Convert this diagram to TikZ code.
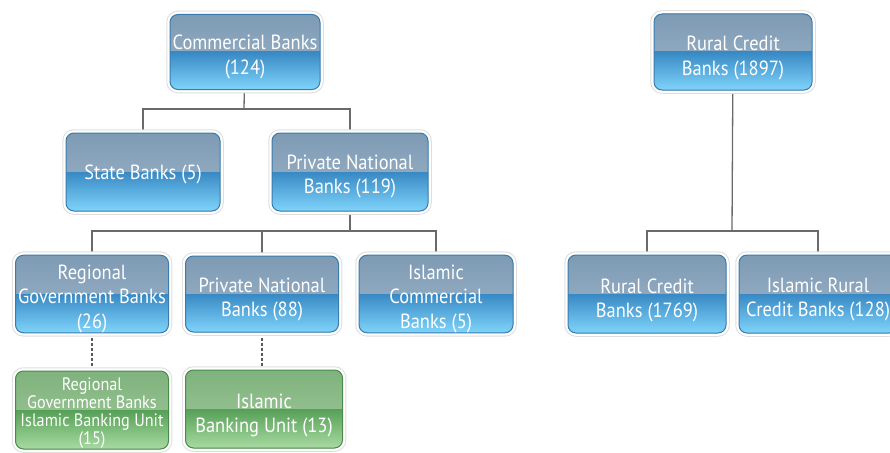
\documentclass[tikz,border=0pt]{standalone}
\usepackage{fontspec}
\setmainfont{PT Sans}[FakeStretch=0.9]
\usetikzlibrary{backgrounds}
\definecolor{bTop}{HTML}{7E9BB4}
\definecolor{bTop2}{HTML}{9DB5C9}
\definecolor{bMid}{HTML}{3889C4}
\definecolor{bBot}{HTML}{7FD4FA}
\definecolor{bEdge}{HTML}{3A7BAC}
\definecolor{gTop}{HTML}{7FB27C}
\definecolor{gTop2}{HTML}{A2CC9E}
\definecolor{gMid}{HTML}{56A056}
\definecolor{gBot}{HTML}{A8DAA2}
\definecolor{gEdge}{HTML}{4A8A4A}
\definecolor{link}{HTML}{6A6A6A}
\newcommand\dropl[1]{\rule{0pt}{#1}}
\tikzset{
  cardbase/.style={rounded corners=8pt, line width=1pt, align=center, text=white,
    font=\fontsize{20.5}{24.5}\selectfont, inner sep=0pt,
    preaction={draw=black!13, line width=7.5pt},
    preaction={draw=white, line width=5.5pt}},
  bluebox/.style={cardbase, draw=bEdge, fill=bMid,
    path picture={
      \shade[sharp corners, top color=bTop, bottom color=bTop2] (path picture bounding box.north west) rectangle (path picture bounding box.east);
      \shade[sharp corners, top color=bMid, bottom color=bBot] (path picture bounding box.west) rectangle (path picture bounding box.south east);}},
  greenbox/.style={cardbase, draw=gEdge, fill=gMid,
    path picture={
      \shade[sharp corners, top color=gTop, bottom color=gTop2] (path picture bounding box.north west) rectangle (path picture bounding box.east);
      \shade[sharp corners, top color=gMid, bottom color=gBot] (path picture bounding box.west) rectangle (path picture bounding box.south east);}},
  solidlink/.style={draw=link, line width=1.3pt},
  dashlink/.style={draw=link!85!black, line width=1.3pt, dash pattern=on 3pt off 2pt},
}
\begin{document}
\begin{tikzpicture}[x=1pt, y=-1pt]
\useasboundingbox (0,0) rectangle (890,452);

% top-left tree
\node[bluebox, minimum width=150pt, minimum height=75pt] (com) at (245,52) {\dropl{25pt}Commercial Banks\\(124)};
\node[bluebox, minimum width=154pt, minimum height=78pt] (state) at (143,172) {\dropl{19pt}State Banks (5)};
\node[bluebox, minimum width=156pt, minimum height=78pt] (pnb) at (350,172) {\dropl{24pt}Private National\\Banks (119)};
\node[bluebox, minimum width=153pt, minimum height=76pt] (rgb) at (92,294) {\dropl{24pt}Regional\\Government Banks\\(26)};
\node[bluebox, minimum width=153pt, minimum height=76pt] (pnb2) at (262,294) {\dropl{25pt}Private National\\Banks (88)};
\node[bluebox, minimum width=154pt, minimum height=76pt] (icb) at (436,294) {\dropl{24pt}Islamic\\Commercial\\Banks (5)};
\node[greenbox, minimum width=153pt, minimum height=78pt, font=\fontsize{18}{18}\selectfont] (rgbu) at (92,410) {\dropl{19.5pt}Regional\\Government Banks\\Islamic Banking Unit\\(15)};
\node[greenbox, minimum width=157pt, minimum height=78pt] (ibu) at (264,409) {\dropl{27pt}Islamic\\Banking Unit (13)};

% right tree
\node[bluebox, minimum width=158pt, minimum height=76pt] (rcb) at (733,52) {\dropl{27pt}Rural Credit\\Banks (1897)};
\node[bluebox, minimum width=158pt, minimum height=78pt] (rcb2) at (647,294) {\dropl{27pt}Rural Credit\\Banks (1769)};
\node[bluebox, minimum width=158pt, minimum height=78pt] (ircb) at (818,294) {\dropl{25pt}Islamic Rural\\Credit Banks (128)};

\coordinate (j1) at (244,109);
\coordinate (j2) at (350,231);
\coordinate (j3) at (732,231);

\begin{pgfonlayer}{background}
\draw[solidlink] (com) -- (j1);
\draw[solidlink] (state.north) |- (j1) -| (pnb.north);
\draw[solidlink] (pnb) -- (j2);
\draw[solidlink] (rgb.north) |- (j2) -| (icb.north);
\draw[solidlink] (pnb2.north) -- (pnb2.north |- j2);
\draw[dashlink] (rgb) -- (rgbu);
\draw[dashlink] (pnb2) -- (pnb2 |- ibu.north);
\draw[solidlink] (rcb) -- (j3);
\draw[solidlink] (rcb2.north) |- (j3) -| (ircb.north);
\end{pgfonlayer}
\end{tikzpicture}
\end{document}
